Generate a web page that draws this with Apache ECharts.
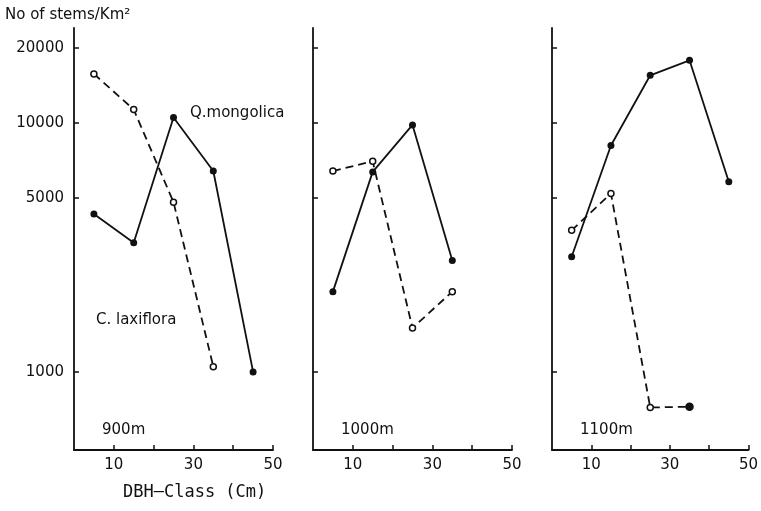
<!DOCTYPE html>
<html>
<head>
<meta charset="utf-8">
<script src="https://cdn.jsdelivr.net/npm/echarts@6/dist/echarts.min.js"></script>
<style>
  html, body { margin: 0; padding: 0; background: #fff; }
  #chart { width: 761px; height: 511px; }
</style>
</head>
<body>
<div id="chart"></div>
<script>
var chartDom = document.getElementById('chart');
var myChart = echarts.init(chartDom);

// DBH class midpoints (cm)
var dbhClass = [5, 15, 25, 35, 45];
var panelNames = ['900m', '1000m', '1100m'];

// stems per km2, Q. mongolica (solid) and C. laxiflora (dashed)
var mongolica900 = [4300, 3300, 10500, 6400, 1000];
var laxiflora900 = [15700, 11300, 4800, 1050];
var mongolica1000 = [2100, 6350, 9800, 2800];
var laxiflora1000 = [6400, 7000, 1500, 2100];
var mongolica1100 = [2900, 8100, 15500, 17800, 5800];
var laxiflora1100 = [3700, 5200, 720, 725];

var yTicks = [1000, 5000, 10000, 20000];
var xTicks = [10, 20, 30, 40, 50];
var xLabels = [10, 30, 50];

var font = 'DejaVu Sans';
var lefts = [74, 313, 552];

function pairs(vals) {
  return vals.map(function (v, i) { return [dbhClass[i], v]; });
}

var grids = [], xAxes = [], yAxes = [], series = [];
lefts.forEach(function (l, i) {
  grids.push({ left: l, top: 28, width: 199, bottom: 61 });
  xAxes.push({
    type: 'value', gridIndex: i, min: 0, max: 50,
    axisLine: { show: true, onZero: false, lineStyle: { color: '#111', width: 1.8 } },
    axisTick: { show: true, inside: true, length: 5, customValues: xTicks, lineStyle: { color: '#111', width: 1.5 } },
    axisLabel: { customValues: xLabels, color: '#111', fontSize: 15, fontFamily: font, margin: 8 },
    splitLine: { show: false }
  });
  yAxes.push({
    type: 'log', gridIndex: i, min: 486, max: 24000,
    axisLine: { show: true, lineStyle: { color: '#111', width: 1.8 } },
    axisTick: { show: true, inside: true, length: 5, customValues: yTicks, lineStyle: { color: '#111', width: 1.5 } },
    axisLabel: {
      show: i === 0, customValues: yTicks, color: '#111', fontSize: 15, fontFamily: font, margin: 10,
      formatter: function (v) { return String(Math.round(v)); }
    },
    splitLine: { show: false }
  });
});

var solid = [mongolica900, mongolica1000, mongolica1100];
var dashed = [laxiflora900, laxiflora1000, laxiflora1100];
for (var i = 0; i < 3; i++) {
  series.push({
    type: 'line', xAxisIndex: i, yAxisIndex: i, data: pairs(solid[i]),
    symbol: 'circle', symbolSize: 7,
    lineStyle: { color: '#111', width: 1.8 },
    itemStyle: { color: '#111' }
  });
  var d = pairs(dashed[i]);
  if (i === 2) {
    // last point at 1100m is drawn filled in the original
    var last = d[d.length - 1];
    d[d.length - 1] = { value: last, symbolSize: 7, itemStyle: { color: '#111' } };
  }
  series.push({
    type: 'line', xAxisIndex: i, yAxisIndex: i, data: d,
    symbol: 'circle', symbolSize: 6, showSymbol: true,
    lineStyle: { color: '#111', width: 1.8, type: [8, 5] },
    itemStyle: { color: '#fff', borderColor: '#111', borderWidth: 1.5 }
  });
}

var texts = [
  { text: 'No of stems/Km²', left: 5, top: 8 },
  { text: 'Q.mongolica', left: 190, top: 106 },
  { text: 'C. laxiflora', left: 96, top: 313 },
  { text: 'DBH\u2013Class (Cm)', left: 123, top: 484, size: 17, family: 'DejaVu Sans Mono' }
];
panelNames.forEach(function (n, i) {
  texts.push({ text: n, left: lefts[i] + 28, top: 423 });
});

var option = {
  animation: false,
  backgroundColor: '#fff',
  title: texts.map(function (t) {
    return {
      text: t.text, left: t.left, top: t.top, padding: 0,
      textStyle: { color: '#111', fontSize: t.size || 15, fontWeight: 'normal', fontFamily: t.family || font }
    };
  }),
  grid: grids,
  xAxis: xAxes,
  yAxis: yAxes,
  series: series
};

option && myChart.setOption(option);
</script>
</body>
</html>
